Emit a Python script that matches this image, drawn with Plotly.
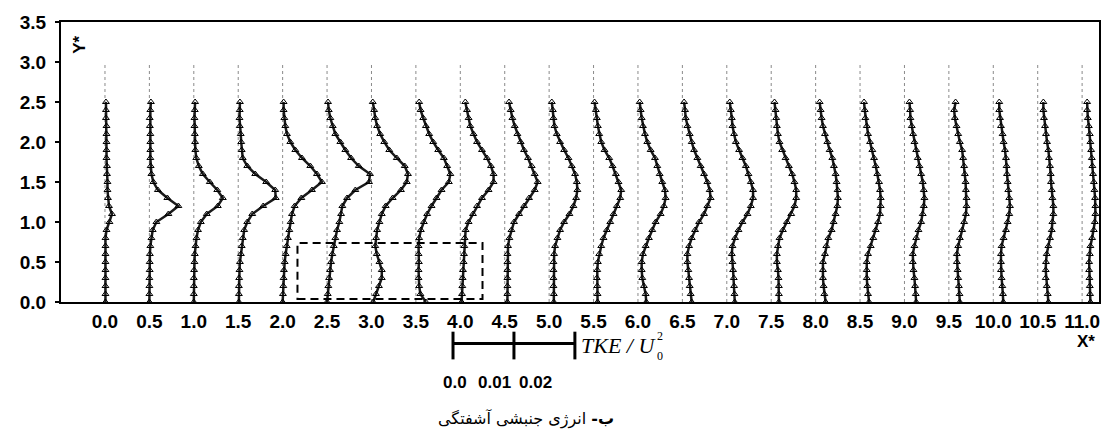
import plotly.graph_objects as go

# ---------------- data ----------------
stations = [0.0, 0.5, 1.0, 1.5, 2.0, 2.5, 3.0, 3.5, 4.0, 4.5, 5.0, 5.5,
            6.0, 6.5, 7.0, 7.5, 8.0, 8.5, 9.0, 9.5, 10.0, 10.5, 11.0]
station_labels = ["0.0", "0.5", "1.0", "1.5", "2.0", "2.5", "3.0", "3.5", "4.0", "4.5",
                  "5.0", "5.5", "6.0", "6.5", "7.0", "7.5", "8.0", "8.5", "9.0", "9.5",
                  "10.0", "10.5", "11.0"]
y_star = [0.0, 0.1, 0.2, 0.3, 0.4, 0.5, 0.6, 0.7, 0.8, 0.9, 1.0, 1.1, 1.2,
          1.3, 1.4, 1.5, 1.6, 1.7, 1.8, 1.9, 2.0, 2.1, 2.2, 2.3, 2.4, 2.5]
y_ticks = [0.0, 0.5, 1.0, 1.5, 2.0, 2.5, 3.0, 3.5]
y_tick_labels = ["0.0", "0.5", "1.0", "1.5", "2.0", "2.5", "3.0", "3.5"]

# TKE / U0^2 profiles at each X* station (values at the y_star levels)
tke_00 = [0.00008, 0.00008, 0.00008, 0.00008, 0.00008, 0.00008, 0.00008, 0.00008, 0.00008, 0.00025, 0.00074, 0.00115, 0.00066,
          0.00049, 0.00041, 0.00041, 0.00033, 0.00033, 0.00025, 0.00025, 0.00025, 0.00025, 0.00025, 0.00016, 0.00016, 0.00016]
tke_05 = [0, 0, 0, 0, 0.00005, 0.00005, 0.00008, 0.00016, 0.00033, 0.00054, 0.00115, 0.00312, 0.00476,
          0.00295, 0.00139, 0.00066, 0.00033, 0.00021, 0.00016, 0.00016, 0.00016, 0.00016, 0.00008, 0.00005, 0.00016, 0.00025]
tke_10 = [0, 0, 0, 0, 0.00005, 0.00011, 0.00016, 0.00028, 0.00044, 0.00069, 0.00115, 0.00213, 0.00394,
          0.00476, 0.00385, 0.00262, 0.00148, 0.00082, 0.00041, 0.00025, 0.00021, 0.00016, 0.00011, 0.00011, 0.00016, 0.00021]
tke_15 = [0.00011, 0.00011, 0.00011, 0.00016, 0.00021, 0.00028, 0.00044, 0.00057, 0.00074, 0.00098, 0.00148, 0.00230, 0.00410,
          0.00615, 0.00607, 0.00459, 0.00279, 0.00148, 0.00074, 0.00057, 0.00049, 0.00041, 0.00025, 0.00021, 0.00025, 0.00028]
tke_20 = [0, 0.00005, 0.00011, 0.00016, 0.00021, 0.00033, 0.00049, 0.00066, 0.00087, 0.00110, 0.00131, 0.00153, 0.00197,
          0.00307, 0.00481, 0.00645, 0.00563, 0.00454, 0.00317, 0.00208, 0.00126, 0.00071, 0.00044, 0.00028, 0.00016, 0.00016]
tke_25 = [0, 0.00011, 0.00021, 0.00033, 0.00049, 0.00066, 0.00087, 0.00110, 0.00136, 0.00164, 0.00202, 0.00230, 0.00251,
          0.00328, 0.00464, 0.00689, 0.00705, 0.00520, 0.00394, 0.00300, 0.00218, 0.00136, 0.00093, 0.00054, 0.00028, 0.00016]
tke_30 = [0.00028, 0.00074, 0.00123, 0.00169, 0.00169, 0.00131, 0.00087, 0.00062, 0.00077, 0.00093, 0.00131, 0.00169, 0.00233,
          0.00348, 0.00484, 0.00579, 0.00599, 0.00546, 0.00415, 0.00292, 0.00210, 0.00143, 0.00093, 0.00062, 0.00044, 0.00021]
tke_35 = [0.00164, 0.00074, 0.00054, 0.00044, 0.00044, 0.00049, 0.00044, 0.00044, 0.00054, 0.00082, 0.00131, 0.00185, 0.00257,
          0.00339, 0.00421, 0.00541, 0.00566, 0.00513, 0.00459, 0.00366, 0.00284, 0.00218, 0.00164, 0.00120, 0.00077, 0.00054]
tke_40 = [0.00021, 0.00028, 0.00033, 0.00038, 0.00044, 0.00054, 0.00061, 0.00066, 0.00071, 0.00087, 0.00136, 0.00208, 0.00274,
          0.00356, 0.00464, 0.00546, 0.00546, 0.00503, 0.00438, 0.00356, 0.00274, 0.00218, 0.00164, 0.00136, 0.00110, 0.00082]
tke_45 = [0.00044, 0.00044, 0.00044, 0.00044, 0.00044, 0.00044, 0.00044, 0.00054, 0.00077, 0.00110, 0.00153, 0.00235, 0.00317,
          0.00399, 0.00492, 0.00541, 0.00492, 0.00443, 0.00382, 0.00317, 0.00262, 0.00208, 0.00164, 0.00126, 0.00098, 0.00071]
tke_50 = [0.00077, 0.00077, 0.00071, 0.00071, 0.00071, 0.00071, 0.00082, 0.00098, 0.00136, 0.00180, 0.00246, 0.00333, 0.00399,
          0.00443, 0.00464, 0.00454, 0.00426, 0.00372, 0.00317, 0.00246, 0.00180, 0.00126, 0.00087, 0.00071, 0.00061, 0.00044]
tke_55 = [0.00066, 0.00066, 0.00061, 0.00054, 0.00061, 0.00071, 0.00093, 0.00126, 0.00164, 0.00218, 0.00274, 0.00328, 0.00382,
          0.00438, 0.00454, 0.00410, 0.00366, 0.00312, 0.00257, 0.00180, 0.00126, 0.00093, 0.00071, 0.00054, 0.00038, 0.00016]
tke_60 = [0.00136, 0.00126, 0.00098, 0.00071, 0.00061, 0.00061, 0.00082, 0.00126, 0.00180, 0.00235, 0.00290, 0.00372, 0.00426,
          0.00454, 0.00443, 0.00399, 0.00356, 0.00317, 0.00279, 0.00208, 0.00153, 0.00115, 0.00082, 0.00061, 0.00044, 0.00028]
tke_65 = [0.00153, 0.00136, 0.00120, 0.00110, 0.00098, 0.00082, 0.00082, 0.00110, 0.00153, 0.00208, 0.00274, 0.00356, 0.00410,
          0.00464, 0.00448, 0.00410, 0.00356, 0.00300, 0.00246, 0.00192, 0.00153, 0.00120, 0.00082, 0.00054, 0.00044, 0.00028]
tke_70 = [0.00131, 0.00126, 0.00120, 0.00115, 0.00103, 0.00093, 0.00082, 0.00093, 0.00136, 0.00192, 0.00257, 0.00339, 0.00394,
          0.00431, 0.00431, 0.00394, 0.00356, 0.00312, 0.00257, 0.00202, 0.00148, 0.00120, 0.00093, 0.00082, 0.00066, 0.00049]
tke_75 = [0.00126, 0.00126, 0.00126, 0.00120, 0.00110, 0.00093, 0.00093, 0.00110, 0.00136, 0.00192, 0.00257, 0.00328, 0.00382,
          0.00410, 0.00410, 0.00382, 0.00344, 0.00290, 0.00235, 0.00180, 0.00136, 0.00110, 0.00093, 0.00082, 0.00071, 0.00054]
tke_80 = [0.00164, 0.00143, 0.00131, 0.00120, 0.00120, 0.00120, 0.00153, 0.00175, 0.00208, 0.00262, 0.00295, 0.00328, 0.00356,
          0.00366, 0.00361, 0.00344, 0.00328, 0.00300, 0.00274, 0.00230, 0.00192, 0.00153, 0.00120, 0.00098, 0.00082, 0.00066]
tke_85 = [0.00148, 0.00131, 0.00120, 0.00110, 0.00110, 0.00110, 0.00131, 0.00175, 0.00218, 0.00257, 0.00295, 0.00328, 0.00339,
          0.00339, 0.00328, 0.00312, 0.00284, 0.00257, 0.00230, 0.00202, 0.00164, 0.00131, 0.00110, 0.00087, 0.00077, 0.00066]
tke_90 = [0.00192, 0.00185, 0.00175, 0.00164, 0.00148, 0.00136, 0.00136, 0.00164, 0.00192, 0.00230, 0.00274, 0.00300, 0.00317,
          0.00328, 0.00317, 0.00300, 0.00274, 0.00246, 0.00218, 0.00192, 0.00164, 0.00143, 0.00120, 0.00098, 0.00093, 0.00082]
tke_95 = [0.00180, 0.00175, 0.00164, 0.00153, 0.00143, 0.00131, 0.00131, 0.00153, 0.00180, 0.00218, 0.00251, 0.00279, 0.00290,
          0.00290, 0.00279, 0.00274, 0.00262, 0.00251, 0.00235, 0.00218, 0.00180, 0.00153, 0.00126, 0.00098, 0.00087, 0.00110]
tke_100 = [0.00164, 0.00159, 0.00148, 0.00136, 0.00126, 0.00126, 0.00126, 0.00136, 0.00169, 0.00208, 0.00235, 0.00262, 0.00274,
           0.00262, 0.00246, 0.00235, 0.00225, 0.00218, 0.00208, 0.00192, 0.00169, 0.00153, 0.00126, 0.00110, 0.00098, 0.00098]
tke_105 = [0.00175, 0.00164, 0.00148, 0.00131, 0.00131, 0.00136, 0.00148, 0.00175, 0.00202, 0.00230, 0.00241, 0.00257, 0.00257,
           0.00241, 0.00230, 0.00218, 0.00213, 0.00202, 0.00185, 0.00175, 0.00153, 0.00136, 0.00120, 0.00103, 0.00093, 0.00093]
tke_110 = [0.00136, 0.00131, 0.00126, 0.00120, 0.00115, 0.00115, 0.00126, 0.00136, 0.00164, 0.00192, 0.00208, 0.00218, 0.00218,
           0.00213, 0.00202, 0.00192, 0.00180, 0.00169, 0.00159, 0.00148, 0.00136, 0.00126, 0.00110, 0.00093, 0.00082, 0.00082]

profiles = [tke_00, tke_05, tke_10, tke_15, tke_20, tke_25, tke_30, tke_35, tke_40, tke_45, tke_50, tke_55,
            tke_60, tke_65, tke_70, tke_75, tke_80, tke_85, tke_90, tke_95, tke_100, tke_105, tke_110]

scale_ticks = [0.0, 0.01, 0.02]
scale_labels = ["0.0", "0.01", "0.02"]
caption_bold = "ب-"
caption_rest = "انرژی جنبشی آشفتگی"

# ---------------- styling / layout constants ----------------
W, H = 1117, 441
ML, MR, MT, MB = 61, 18, 19, 139
PW, PH = W - ML - MR, H - MT - MB


def px_x(p):  # page pixel -> paper x
    return (p - ML) / PW


def px_y(p):  # page pixel -> paper y
    return (H - MB - p) / PH


TKE_TO_X = 68.6          # X* units per unit of TKE/U0^2 (from the scale bar)
BAR_X0 = 3.918           # X* position of the scale bar origin
ZOOM_BOX = dict(x0=2.167, x1=4.25, y0=0.037, y1=0.738)
FONT = "Liberation Sans, Arial, sans-serif"
SERIF = "Liberation Serif, Times New Roman, serif"

fig = go.Figure()

for s, prof in zip(stations, profiles):
    fig.add_trace(go.Scatter(
        x=[s + v * TKE_TO_X for v in prof], y=y_star,
        mode="lines+markers",
        line=dict(color="#1a1a1a", width=2.5),
        marker=dict(symbol="triangle-up-open", size=6, color="black",
                    line=dict(width=1, color="black")),
        showlegend=False, hoverinfo="skip"))

shapes = []
for s in stations:
    shapes.append(dict(type="line", xref="x", yref="y", x0=s, x1=s, y0=0, y1=3.0,
                       line=dict(color="#8a8a8a", width=1, dash="dot"), layer="below"))
shapes.append(dict(type="rect", xref="x", yref="y", **ZOOM_BOX,
                   line=dict(color="black", width=2, dash="8px,5px")))

# scale bar below the plot area
bar_x = [BAR_X0 + t * TKE_TO_X for t in scale_ticks]
shapes.append(dict(type="line", xref="x", yref="paper", x0=bar_x[0], x1=bar_x[-1],
                   y0=px_y(344), y1=px_y(344), line=dict(color="black", width=3)))
for bx in bar_x:
    shapes.append(dict(type="line", xref="x", yref="paper", x0=bx, x1=bx,
                       y0=px_y(332), y1=px_y(360), line=dict(color="black", width=3)))

bar_end_px = 105 + bar_x[-1] * 88.83
annotations = [
    dict(text="<b>Y*</b>", xref="paper", yref="paper", x=px_x(80), y=px_y(42),
         xanchor="center", yanchor="middle", showarrow=False, textangle=-90,
         font=dict(family=FONT, size=17, color="black")),
    dict(text="<b>X*</b>", xref="paper", yref="paper", x=px_x(1086), y=px_y(342),
         xanchor="center", yanchor="middle", showarrow=False,
         font=dict(family=FONT, size=17, color="black")),
    dict(text="<i>TKE / U</i>", xref="paper", yref="paper", x=px_x(bar_end_px + 4), y=px_y(346),
         xanchor="left", yanchor="middle", showarrow=False,
         font=dict(family=SERIF, size=22, color="black")),
    dict(text="2", xref="paper", yref="paper", x=px_x(bar_end_px + 80), y=px_y(336),
         xanchor="left", yanchor="middle", showarrow=False,
         font=dict(family=SERIF, size=12, color="black")),
    dict(text="0", xref="paper", yref="paper", x=px_x(bar_end_px + 80), y=px_y(357),
         xanchor="left", yanchor="middle", showarrow=False,
         font=dict(family=SERIF, size=12, color="black")),
    dict(text=f"<b>{caption_bold}</b> {caption_rest}", xref="paper", yref="paper",
         x=px_x(526), y=px_y(420), xanchor="center", yanchor="middle", showarrow=False,
         font=dict(family="DejaVu Sans, sans-serif", size=16, color="black")),
]
label_px = [455, 494, 535]
for lx, lab in zip(label_px, scale_labels):
    annotations.append(dict(text=f"<b>{lab}</b>", xref="paper", yref="paper",
                            x=px_x(lx), y=px_y(383), xanchor="center", yanchor="middle",
                            showarrow=False, font=dict(family=FONT, size=17, color="black")))

fig.update_layout(
    width=W, height=H,
    margin=dict(l=ML, r=MR, t=MT, b=MB),
    paper_bgcolor="white", plot_bgcolor="white",
    shapes=shapes, annotations=annotations,
    xaxis=dict(range=[-0.495, 11.19], tickvals=stations,
               ticktext=[f"<b>{t}</b>" for t in station_labels],
               showgrid=False, zeroline=False, showline=True, mirror=True,
               linecolor="black", linewidth=2, ticks="", ticklabelstandoff=1,
               tickfont=dict(family=FONT, size=19, color="black")),
    yaxis=dict(range=[0, 3.5], tickvals=y_ticks,
               ticktext=[f"<b>{t}</b>" for t in y_tick_labels],
               showgrid=False, zeroline=False, showline=True, mirror=True,
               linecolor="black", linewidth=2, ticks="outside", ticklen=4,
               tickwidth=1.5, tickcolor="black", ticklabelstandoff=5,
               tickfont=dict(family=FONT, size=19, color="black")),
)

fig.write_html("out.html")
